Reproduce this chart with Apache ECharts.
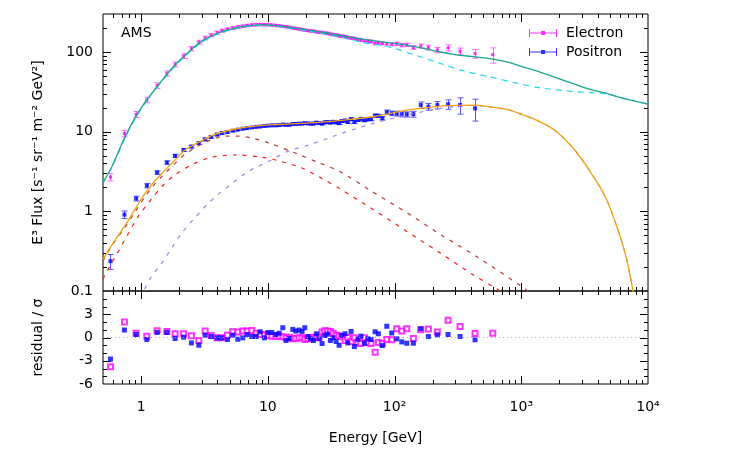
<!DOCTYPE html>
<html>
<head>
<meta charset="utf-8">
<script src="https://cdn.jsdelivr.net/npm/echarts@6/dist/echarts.min.js"></script>
<style>
  html, body { margin: 0; background: #fff; }
  #main { width: 750px; height: 450px; }
</style>
</head>
<body>
<div id="main"></div>
<script>
// AMS electron / positron E^3 flux with model fit, and residuals

// energy bins [GeV] (shared by both species)
const energy = [0.573, 0.738, 0.913, 1.109, 1.337, 1.595, 1.854, 2.164, 2.494, 2.852,
  3.198, 3.566, 3.978, 4.332, 4.797, 5.291, 5.795, 6.346, 6.861, 7.472,
  8.078, 8.687, 9.394, 9.99, 10.74, 11.55, 12.27, 13.12, 13.93, 14.79,
  15.73, 16.62, 17.64, 18.63, 19.56, 20.67, 21.83, 22.88, 24.16, 25.37,
  26.79, 28.14, 29.5, 31.15, 32.72, 34.55, 36.49, 38.32, 40.69, 42.73,
  45.38, 48.18, 51.26, 54.13, 57.78, 61.45, 65.25, 70.2, 74.5, 80.1,
  86.8, 95.0, 104.1, 114.0, 124.8, 140.7, 160.9, 184.8, 217.6, 264.3,
  328.7, 431.6, 595.5];

const eFlux = [2.7, 9.5, 16.5, 25, 38, 54, 70, 89, 110, 133,
  150, 163, 175, 185, 193, 200, 206, 211, 215, 218,
  220, 221, 221, 220, 218, 216, 213, 210, 207, 204,
  200, 197, 194, 191, 188, 186, 184, 182, 179, 177,
  176, 173, 171, 168, 165, 163, 160, 158, 156, 152,
  150, 148, 144, 141, 139, 137, 135, 128, 131, 128,
  127, 125, 127, 122, 123, 114, 119, 114, 106, 113,
  102, 95.5, 92.6];
const eErr = [0.3, 0.9, 1.4, 2.0, 3.0, 4.0, 5.0, 6.0, 7.0, 7.5,
  8, 8, 8, 8, 8, 8, 8, 8, 8, 8,
  8, 8, 8, 7, 6, 6, 6, 6, 6, 6,
  6, 6, 6, 6, 6, 6, 6, 6, 6, 6,
  6, 6, 6, 6, 6, 6, 6, 6, 5, 5,
  5, 5, 5, 5, 5, 5, 5, 5, 5, 5,
  5, 5, 6, 6, 6, 6, 7, 8, 8, 10,
  10, 12, 20];

const pFlux = [0.237, 0.91, 1.45, 2.1, 3.07, 4.1, 4.97, 5.9, 6.5, 7.2,
  8.0, 8.6, 9.2, 9.6, 9.9, 10.3, 10.6, 10.9, 11.1, 11.3,
  11.5, 11.6, 11.8, 11.9, 12.0, 12.0, 12.1, 12.3, 12.2, 12.2,
  12.5, 12.5, 12.6, 12.6, 12.8, 12.7, 12.6, 12.6, 13.0, 12.8,
  12.6, 13.1, 13.2, 13.0, 13.3, 13.1, 12.8, 13.6, 13.8, 13.2,
  14.4, 13.2, 14.0, 14.5, 13.9, 14.3, 14.4, 15.9, 15.8, 14.7,
  17.6, 17.0, 16.9, 16.5, 16.5, 16.6, 21.6, 20.6, 21.6, 22.1,
  21.6, 19.6];
const pErr = [0.05, 0.1, 0.1, 0.13, 0.15, 0.2, 0.22, 0.25, 0.25, 0.28,
  0.3, 0.3, 0.3, 0.3, 0.3, 0.3, 0.3, 0.3, 0.3, 0.3,
  0.3, 0.3, 0.3, 0.3, 0.35, 0.35, 0.35, 0.35, 0.35, 0.35,
  0.35, 0.35, 0.35, 0.35, 0.35, 0.35, 0.35, 0.35, 0.35, 0.35,
  0.35, 0.35, 0.35, 0.5, 0.5, 0.5, 0.5, 0.5, 0.5, 0.5,
  0.5, 0.5, 0.5, 0.5, 0.5, 0.5, 0.7, 0.7, 0.7, 0.7,
  1.1, 1.1, 1.2, 1.2, 1.2, 1.4, 2.0, 2.0, 2.3, 3.0,
  5.0, 6.0];

// residual / sigma
const eResid = [-3.78, 2.0, 0.56, 0.17, 0.87, 0.78, 0.48, 0.48, 0.22, -0.39,
  0.83, 0.26, -0.04, -0.04, 0.3, 0.74, 0.7, 0.83, 0.83, 0.91,
  0.56, 0.4, 0.39, 0.26, 0.17, 0.17, 0.17, 0.09, -0.04, 0.04,
  -0.17, -0.13, -0.04, -0.04, -0.26, -0.17, -0.04, 0.04, 0.04, 0.04,
  0.7, 0.87, 0.83, 0.78, 0.56, 0.3, 0.22, 0.09, -0.39, 0.0,
  -0.52, -0.04, -0.65, -0.78, -0.04, -0.65, -0.78, -1.91, -0.65, -0.78,
  -0.26, -0.3, 1.13, 0.83, 1.13, -0.13, 1.0, 1.09, 0.7, 2.22,
  1.43, 0.52, 0.56];
const pResid = [-2.78, 0.96, 0.39, -0.26, 0.65, 0.65, -0.13, 0.04, -0.7, -1.0,
  0.3, 0.13, -0.04, -0.04, -0.26, 0.3, -0.22, -0.04, 0.39, 0.13,
  0.13, 0.74, -0.04, 0.65, 0.65, 0.39, 0.56, 1.26, -0.39, -0.13,
  1.04, 0.83, 0.96, 0.78, 1.26, 0.13, -0.17, -0.39, 0.48, -0.17,
  -0.78, 0.26, 0.43, -0.39, -0.04, -0.52, -1.0, 0.26, 0.48, -0.7,
  0.78, -1.17, -0.22, 0.17, -0.74, -0.17, -0.26, 0.74, 0.48, -1.04,
  1.45, 0.58, -0.17, -0.57, -0.74, -0.74, 1.13, 0.13, 0.35, 0.39,
  0.13, -0.3];

// model curves: [E, E^3 flux]
const eTotal = [[0.5, 2.3], [0.57, 3.3], [0.62, 4.4], [0.7, 6.9], [0.79, 10.3], [0.9, 15.2],
  [1.0, 19.8], [1.1, 24.8], [1.25, 32], [1.46, 44], [1.7, 59], [1.97, 76], [2.3, 96],
  [2.67, 118], [3.1, 140], [3.61, 160], [4.2, 177], [4.88, 191], [5.7, 203], [6.6, 211],
  [7.7, 218], [9, 221], [10.5, 218], [12.9, 211], [16, 200], [22.2, 186], [30, 172],
  [38, 160], [55, 145], [70, 138], [92, 130], [130, 120], [170, 111], [229, 100],
  [300, 93], [400, 88], [567, 82.6], [800, 74], [1000, 66], [1406, 56], [2000, 46],
  [2573, 40], [3500, 34], [4722, 30.2], [6500, 26], [10000, 22.2]];
const ePrimary = [[0.5, 2.25], [0.62, 4.3], [0.79, 10.1], [1.1, 24.3], [1.46, 43], [1.97, 74],
  [2.67, 115], [3.61, 157], [4.88, 187], [6.6, 206], [9, 216], [12.9, 206], [22.2, 180],
  [38, 152], [55, 133], [92, 115], [150, 90], [229, 72], [350, 58], [567, 48.7],
  [900, 41], [1406, 35.5], [2500, 32], [3480, 31], [4722, 29.8], [6500, 26], [10000, 22.2]];
const pTotal = [[0.5, 0.25], [0.6, 0.40], [0.75, 0.67], [0.9, 1.08], [1.08, 1.7], [1.25, 2.3],
  [1.46, 3.0], [1.85, 4.4], [2.22, 5.9], [2.67, 7.0], [3.2, 8.1], [3.6, 8.9], [4.5, 10.0],
  [5.5, 10.8], [7, 11.5], [9, 12.0], [12, 12.3], [16.4, 12.6], [25, 13.1], [38, 13.9],
  [68, 15.4], [125, 18.6], [229, 20.9], [320, 21.4], [417, 21.5], [567, 20.5], [800, 18.8],
  [1038, 16.2], [1400, 13.4], [1900, 10], [2570, 6.2], [3200, 3.9], [3700, 2.74],
  [4200, 2.0], [4720, 1.4], [5200, 0.95], [5660, 0.65], [6200, 0.42], [6790, 0.25],
  [7200, 0.16], [7570, 0.105], [7900, 0.07]];
const pPulsar = [[0.95, 0.085], [1.04, 0.1], [1.2, 0.15], [1.46, 0.226], [1.75, 0.35],
  [2.1, 0.537], [2.6, 0.8], [3.2, 1.15], [4, 1.6], [4.86, 2.05], [7, 3.16], [10.7, 4.43],
  [14.5, 5.7], [21, 6.8], [30, 8.3], [38, 9.5], [68, 12.7], [125, 16.2], [229, 19.6],
  [320, 20.8], [417, 21.3], [567, 20.4], [800, 18.7], [1038, 16.1], [1400, 13.3],
  [1900, 10], [2570, 6.2], [3200, 3.9], [3700, 2.74], [4200, 2.0], [4720, 1.4],
  [5200, 0.95], [5660, 0.65], [6200, 0.42], [6790, 0.25], [7200, 0.16], [7570, 0.105],
  [7900, 0.07]];
const pBackground = [[0.5, 0.24], [0.6, 0.39], [0.75, 0.64], [0.9, 1.0], [1.08, 1.55],
  [1.25, 2.1], [1.46, 2.75], [1.85, 4.0], [2.22, 5.2], [2.67, 6.3], [3.2, 7.3],
  [3.84, 8.3], [4.88, 8.8], [5.86, 8.8], [7.5, 8.3], [10, 7.3], [16.4, 5.4], [25, 4.1],
  [37, 3.16], [68, 1.73], [128, 0.94], [236, 0.5], [445, 0.27], [1000, 0.115], [1300, 0.085]];
const pSecondary = [[0.5, 0.14], [0.52, 0.16], [0.75, 0.45], [0.95, 0.87], [1.14, 1.27],
  [1.46, 2.05], [1.85, 2.87], [2.67, 4.03], [3.6, 4.78], [5.5, 5.1], [9, 4.78],
  [12.9, 4.2], [18.6, 3.5], [26.6, 2.6], [38, 1.87], [68, 1.05], [125, 0.56],
  [229, 0.30], [417, 0.16], [650, 0.105], [800, 0.085]];

// axis decoration: tick positions
const majorX = [1, 10, 100, 1000];
const minorX = [0.6, 0.7, 0.8, 0.9, 2, 3, 4, 5, 6, 7, 8, 9, 20, 30, 40, 50, 60, 70, 80, 90,
  200, 300, 400, 500, 600, 700, 800, 900, 2000, 3000, 4000, 5000, 6000, 7000, 8000, 9000];
const majorYFlux = [1, 10, 100];
const minorYFlux = [0.2, 0.3, 0.4, 0.5, 0.6, 0.7, 0.8, 0.9, 2, 3, 4, 5, 6, 7, 8, 9,
  20, 30, 40, 50, 60, 70, 80, 90, 200];
const majorYRes = [-3, 0, 3];
const minorYRes = [-5, -4, -2, -1, 1, 2, 4, 5];
const xLabels = { 0: '1', 1: '10', 2: '10²', 3: '10³', 4: '10⁴' };

const FONT = 'DejaVu Sans';
const MAJ = 8, MIN = 4;
const chart = echarts.init(document.getElementById('main'));

function errorBars(name, flux, err, color) {
  const data = flux.map((v, i) => [energy[i], v - err[i], v + err[i]]);
  return {
    type: 'custom', name: name + '_err', xAxisIndex: 0, yAxisIndex: 0, z: 2,
    data: data,
    renderItem: function (params, api) {
      const lo = api.coord([api.value(0), api.value(1)]);
      const hi = api.coord([api.value(0), api.value(2)]);
      const x = Math.round(lo[0]) + 0.5, w = 3;
      return {
        type: 'group', children: [
          { type: 'line', shape: { x1: x, y1: lo[1], x2: x, y2: hi[1] }, style: { stroke: color, lineWidth: 1 } },
          { type: 'line', shape: { x1: x - w, y1: lo[1], x2: x + w, y2: lo[1] }, style: { stroke: color, lineWidth: 1 } },
          { type: 'line', shape: { x1: x - w, y1: hi[1], x2: x + w, y2: hi[1] }, style: { stroke: color, lineWidth: 1 } }
        ]
      };
    }
  };
}

// one item per tick: [x, y, length, 0 = x tick | 1 = y tick]; drawn on both opposite edges
function tickSeries(axisIdx, yRef, yMajors, yMinors) {
  const data = []
    .concat(majorX.map(v => [v, yRef, MAJ, 0]), minorX.map(v => [v, yRef, MIN, 0]))
    .concat(yMajors.map(v => [1, v, MAJ, 1]), yMinors.map(v => [1, v, MIN, 1]));
  return {
    type: 'custom', xAxisIndex: axisIdx, yAxisIndex: axisIdx, z: 2,
    data: data,
    renderItem: function (params, api) {
      const cs = params.coordSys;
      const p = api.coord([api.value(0), api.value(1)]);
      const len = api.value(2);
      const st = () => ({ stroke: '#000', lineWidth: 1 });
      if (api.value(3) === 0) {
        const x = Math.round(p[0]) + 0.5, t = cs.y, b = cs.y + cs.height;
        return { type: 'group', children: [
          { type: 'line', shape: { x1: x, y1: t, x2: x, y2: t + len }, style: st() },
          { type: 'line', shape: { x1: x, y1: b, x2: x, y2: b - len }, style: st() }
        ] };
      }
      const y = Math.round(p[1]) + 0.5, l = cs.x, r = cs.x + cs.width;
      return { type: 'group', children: [
        { type: 'line', shape: { x1: l, y1: y, x2: l + len, y2: y }, style: st() },
        { type: 'line', shape: { x1: r, y1: y, x2: r - len, y2: y }, style: st() }
      ] };
    }
  };
}

function model(data, color, dash, width) {
  return {
    type: 'line', xAxisIndex: 0, yAxisIndex: 0, data: data, smooth: 0.3,
    showSymbol: false, symbol: 'none', silent: true, z: 3, clip: true,
    lineStyle: { color: color, width: width || 1.2, type: dash || 'solid' }
  };
}

function axisBase() {
  return { axisLine: { show: false, onZero: false }, splitLine: { show: false }, axisTick: { show: false } };
}
const labelStyle = { color: '#000', fontSize: 14, fontFamily: FONT };

const legendIcon = 'path://M0,0h1v8h-1z M0,3.5h28v1h-28z M27,0h1v8h-1z M12,2h4v4h-4z';

chart.setOption({
  animation: false,
  backgroundColor: '#fff',
  textStyle: { fontFamily: FONT },
  title: { text: 'AMS', left: 121, top: 26, padding: 0, textStyle: { fontSize: 14, fontWeight: 'normal', color: '#000', fontFamily: FONT } },
  legend: {
    orient: 'vertical', left: 529, top: 26, padding: 0, itemWidth: 28, itemHeight: 8, itemGap: 5,
    textStyle: { fontSize: 14, color: '#000', fontFamily: FONT, padding: [0, 0, 0, 4] },
    data: [{ name: 'Electron', icon: legendIcon }, { name: 'Positron', icon: legendIcon }]
  },
  grid: [
    { left: 103, right: 102, top: 14, height: 277, show: true, borderColor: '#000', borderWidth: 1, outerBoundsMode: 'none' },
    { left: 103, right: 102, top: 291, height: 93, show: true, borderColor: '#000', borderWidth: 1, outerBoundsMode: 'none' }
  ],
  xAxis: [
    Object.assign({ gridIndex: 0, type: 'log', min: 0.5, max: 10000, axisLabel: { show: false } }, axisBase()),
    Object.assign({
      gridIndex: 1, type: 'log', min: 0.5, max: 10000, position: 'bottom',
      name: 'Energy [GeV]', nameLocation: 'middle', nameGap: 47, nameTextStyle: labelStyle,
      axisLabel: Object.assign({
        margin: 16, showMinLabel: true, showMaxLabel: true,
        formatter: function (v) {
          const k = Math.log10(v), r = Math.round(k);
          return Math.abs(k - r) < 1e-6 && xLabels[r] !== undefined ? xLabels[r] : '';
        }
      }, labelStyle)
    }, axisBase())
  ],
  yAxis: [
    Object.assign({
      gridIndex: 0, type: 'log', min: 0.1, max: 300, position: 'left',
      name: 'E³ Flux [s⁻¹ sr⁻¹ m⁻² GeV²]', nameLocation: 'middle', nameGap: 58, nameTextStyle: labelStyle,
      axisLabel: Object.assign({
        margin: 10,
        formatter: function (v) {
          const k = Math.log10(v), r = Math.round(k);
          if (Math.abs(k - r) > 1e-6) return '';
          return r < 0 ? '0.1' : String(Math.pow(10, r));
        }
      }, labelStyle)
    }, axisBase()),
    Object.assign({
      gridIndex: 1, type: 'value', min: -6, max: 6, interval: 3, position: 'left',
      name: 'residual / σ', nameLocation: 'middle', nameGap: 58, nameTextStyle: labelStyle,
      axisLabel: Object.assign({ margin: 10, formatter: function (v) { return v === 6 ? '' : String(v); } }, labelStyle)
    }, axisBase())
  ],
  series: [
    tickSeries(0, 1, majorYFlux, minorYFlux),
    tickSeries(1, 0, majorYRes, minorYRes),
    errorBars('Electron', eFlux, eErr, '#ff66ff'),
    errorBars('Positron', pFlux, pErr, '#5555ff'),
    {
      name: 'Electron', type: 'scatter', xAxisIndex: 0, yAxisIndex: 0, z: 2,
      symbol: 'rect', symbolSize: 3, itemStyle: { color: '#ff00ff' },
      data: eFlux.map((v, i) => [energy[i], v])
    },
    {
      name: 'Positron', type: 'scatter', xAxisIndex: 0, yAxisIndex: 0, z: 2,
      symbol: 'rect', symbolSize: 4, itemStyle: { color: '#0000ff' },
      data: pFlux.map((v, i) => [energy[i], v])
    },
    model(ePrimary, '#22d8ea', [6, 5], 1.2),
    model(eTotal, '#1aa58e', null, 1.3),
    model(pSecondary, '#ff1a1a', [4, 6], 1.2),
    model(pBackground, '#b83a3a', [4, 6], 1.2),
    model(pPulsar, '#a680e8', [4, 6], 1.2),
    model(pTotal, '#f2a20c', null, 1.3),
    {
      name: 'eRes', type: 'scatter', xAxisIndex: 1, yAxisIndex: 1, z: 3,
      symbol: 'emptyRect', symbolSize: 5, itemStyle: { color: '#ff00ff', borderWidth: 1.2 },
      data: eResid.map((v, i) => [energy[i], v]),
      markLine: {
        silent: true, symbol: ['none', 'none'], label: { show: false },
        lineStyle: { color: '#aaaaaa', type: [1, 3], width: 1 },
        data: [{ yAxis: 0 }]
      }
    },
    {
      name: 'pRes', type: 'scatter', xAxisIndex: 1, yAxisIndex: 1, z: 3,
      symbol: 'rect', symbolSize: 5, itemStyle: { color: '#0000ff' },
      data: pResid.map((v, i) => [energy[i], v])
    }
  ]
});
</script>
</body>
</html>
